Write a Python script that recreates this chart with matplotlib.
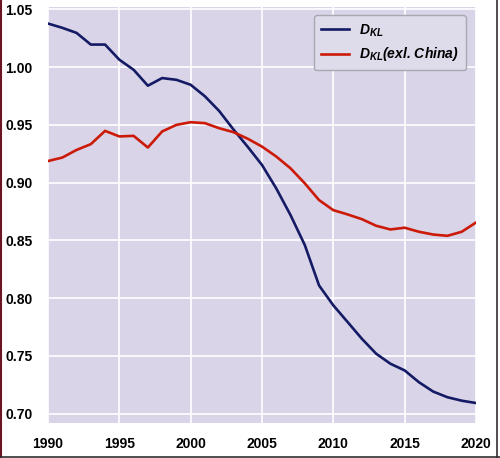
import matplotlib
matplotlib.use("Agg")
import matplotlib.pyplot as plt
from matplotlib.lines import Line2D

# values
years = list(range(1990, 2021))
dkl = [1.0377, 1.034, 1.0296, 1.0195, 1.0195, 1.0064, 0.9977, 0.9839, 0.9905, 0.989,
       0.9847, 0.9747, 0.962, 0.946, 0.931, 0.9153, 0.895, 0.8719, 0.846, 0.811,
       0.7938, 0.7794, 0.7649, 0.752, 0.7433, 0.7375, 0.7273, 0.7192, 0.7143, 0.7113,
       0.7093]
dkl_ex_china = [0.9187, 0.9217, 0.9283, 0.9333, 0.9448, 0.940, 0.9405, 0.9304, 0.9443, 0.950,
                0.9523, 0.9515, 0.9471, 0.9437, 0.938, 0.9312, 0.9226, 0.9124, 0.8994, 0.8849,
                0.8762, 0.8725, 0.8684, 0.8627, 0.8595, 0.861, 0.8575, 0.8551, 0.854, 0.8575,
                0.8655]
xticks = [1990, 1995, 2000, 2005, 2010, 2015, 2020]
yticks = [0.70, 0.75, 0.80, 0.85, 0.90, 0.95, 1.00, 1.05]

plt.rcParams['font.family'] = ['Liberation Sans', 'DejaVu Sans']
plt.rcParams['mathtext.fontset'] = 'custom'
plt.rcParams['mathtext.it'] = 'Liberation Sans:italic:bold'
plt.rcParams['mathtext.rm'] = 'Liberation Sans:bold'

fig = plt.figure(figsize=(5.0, 4.58), dpi=100)
ax = fig.add_axes([0.096, 0.0764, 0.856, 0.9083])
ax.set_facecolor('#d9d4e8')

ax.plot(years, dkl, color='#141a64', linewidth=1.9, label=r'$D_{KL}$')
ax.plot(years, dkl_ex_china, color='#cc1a08', linewidth=1.9, label=r'$D_{KL}$(exl. China)')

ax.set_xlim(1990, 2020)
ax.set_ylim(0.692, 1.052)
ax.set_xticks(xticks)
ax.set_yticks(yticks)
ax.set_yticklabels([f'{v:.2f}' for v in yticks])
ax.grid(True, color='white', linewidth=1.2)
ax.set_axisbelow(True)
for s in ax.spines.values():
    s.set_visible(False)
ax.tick_params(length=0, labelsize=10)
ax.tick_params(axis='y', pad=11)
ax.tick_params(axis='x', pad=10)
for lab in ax.get_xticklabels() + ax.get_yticklabels():
    lab.set_fontweight('bold')

leg = ax.legend(loc='upper right', bbox_to_anchor=(0.992, 0.997),
                prop={'style': 'italic', 'weight': 'bold', 'size': 10},
                frameon=True, facecolor='#dedbea', edgecolor='#a8a8b0',
                handlelength=2.0, handletextpad=0.7, borderpad=0.5, labelspacing=0.5)
leg.get_frame().set_linewidth(1.0)
leg.get_frame().set_alpha(1.0)

# image frame edges
fig.add_artist(Line2D([0.002, 0.002], [0.0, 1.0], color='#6a1424', linewidth=1.5))
fig.add_artist(Line2D([0.994, 0.994], [0.0, 1.0], color='#303030', linewidth=1.2))
fig.add_artist(Line2D([0.0, 1.0], [0.003, 0.003], color='#303030', linewidth=1.2))

fig.savefig('out.png', dpi=100)
